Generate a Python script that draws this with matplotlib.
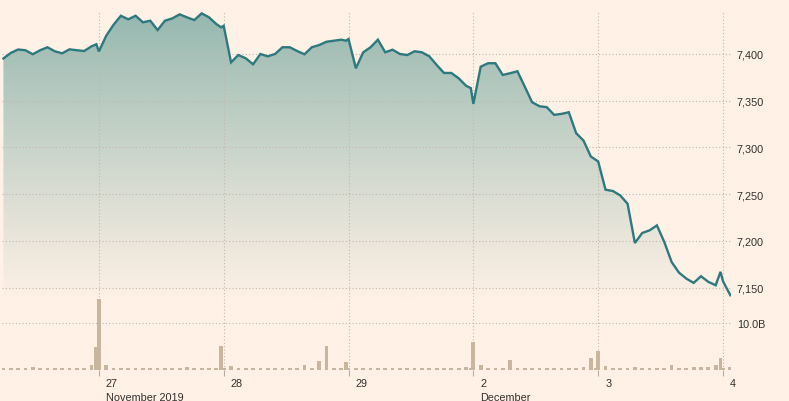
import numpy as np
import matplotlib.pyplot as plt
from matplotlib.colors import to_rgb

plt.rcParams['font.family'] = ['Liberation Sans', 'DejaVu Sans']

# FTSE 100, half-hourly prices and volume, 26 Nov - 4 Dec 2019
day_labels = ['26', '27', '28', '29', '2', '3', '4']
month_labels = {1: 'November 2019', 4: 'December'}

# 26 Nov starts at the 5th half-hour slot (chart window cuts in)
price_26 = [7395.2, 7401.1, 7404.8, 7404.0, 7399.7, 7404.0, 7407.2, 7402.9, 7400.7,
            7405.0, 7404.0, 7403.2, 7408.2, 7410.4]
price_27 = [7402.7, 7419.5, 7431.3, 7440.9, 7437.1, 7440.9, 7433.9, 7435.6, 7425.6,
            7435.6, 7438.1, 7442.4, 7439.2, 7436.3, 7443.5, 7439.2, 7432.0, 7428.5]
price_28 = [7430.2, 7391.1, 7398.9, 7395.4, 7389.0, 7400.0, 7397.5, 7400.0, 7407.2,
            7407.2, 7403.2, 7399.7, 7407.2, 7409.6, 7413.1, 7414.2, 7415.3, 7414.2]
price_29 = [7416.0, 7384.7, 7401.8, 7407.2, 7415.3, 7401.8, 7404.6, 7400.0, 7398.9,
            7402.9, 7401.8, 7397.5, 7388.3, 7379.7, 7379.7, 7374.0, 7366.1, 7363.4]
price_dec2 = [7346.6, 7386.4, 7390.1, 7390.1, 7377.6, 7379.4, 7381.5, 7365.1, 7348.4,
              7344.1, 7343.1, 7334.9, 7335.9, 7337.7, 7315.3, 7307.4, 7290.3, 7286.8]
price_dec3 = [7285.0, 7254.8, 7253.4, 7248.7, 7239.8, 7197.8, 7208.5, 7211.3, 7216.6,
              7198.9, 7177.5, 7166.1, 7159.7, 7155.1, 7162.2, 7156.2, 7152.6, 7166.9]
price_dec4 = [7156.8, 7141.9]

# volume, billions
vol_26 = [0.5, 0.5, 0.45, 0.45, 0.7, 0.5, 0.5, 0.45, 0.45, 0.5, 0.5, 0.5, 1.0, 4.9]
vol_27 = [15.1, 1.0, 0.5, 0.45, 0.5, 0.5, 0.45, 0.45, 0.45, 0.5, 0.45, 0.45, 0.7, 0.5,
          0.5, 0.5, 0.5, 5.2]
vol_28 = [0.45, 0.8, 0.45, 0.45, 0.45, 0.45, 0.45, 0.45, 0.45, 0.45, 0.45, 1.0, 0.45,
          1.9, 5.0, 0.45, 0.45, 1.6]
vol_29 = [0.45, 0.5, 0.45, 0.45, 0.45, 0.45, 0.45, 0.45, 0.45, 0.45, 0.45, 0.45, 0.45,
          0.45, 0.5, 0.5, 0.7, 0.45]
vol_dec2 = [6.0, 1.0, 0.45, 0.45, 0.45, 2.1, 0.45, 0.45, 0.45, 0.45, 0.45, 0.45, 0.45,
            0.45, 0.5, 0.7, 2.5, 0.45]
vol_dec3 = [4.0, 0.8, 0.5, 0.45, 0.5, 0.7, 0.5, 0.45, 0.45, 0.45, 1.0, 0.45, 0.5, 0.7,
            0.7, 0.7, 1.0, 2.5]
vol_dec4 = [0.45, 0.7]

prices = [price_26, price_27, price_28, price_29, price_dec2, price_dec3, price_dec4]
volumes = [vol_26, vol_27, vol_28, vol_29, vol_dec2, vol_dec3, vol_dec4]
first_slot = [4, 0, 0, 0, 0, 0, 0]

# 17 half-hour slots per session plus the closing auction
slots = np.r_[np.arange(17) / 17, 0.98]
x, p, v = [], [], []
for d in range(len(prices)):
    n = len(prices[d])
    s = slots[first_slot[d]:first_slot[d] + n]
    x.extend(d + s)
    p.extend(prices[d])
    v.extend(volumes[d])
x = np.array(x)
p = np.array(p)
v = np.array(v)

bg = '#fff1e5'
grid_kw = dict(color='#c2b8ad', linestyle=(0, (1, 2)), linewidth=0.8)
txt = '#33302e'
fs = 7.8

fig = plt.figure(figsize=(7.89, 4.02), dpi=100, facecolor=bg)
W, H = 789, 402
ax = fig.add_axes([2 / W, 1 - 298 / H, 729 / W, 286 / H])
axv = fig.add_axes([2 / W, 1 - 371 / H, 729 / W, 81 / H])
for a in (ax, axv):
    a.set_facecolor('none')
    for s in a.spines.values():
        s.set_visible(False)
ax.set_zorder(2)

xlo, xhi = 0.224, 6.064
ylo, yhi = 7140, 7446

# gradient area under the line
poly = ax.fill_between(x, p, ylo, color='none', linewidth=0)
top = np.array(to_rgb('#93b7ae'))
bot = np.array(to_rgb('#fdf0e5'))
t = np.linspace(0, 1, 256)[:, None, None] ** 0.9
img = top + (bot - top) * t
im = ax.imshow(img, extent=[xlo, xhi, ylo, yhi], aspect='auto', origin='upper', zorder=0.5)
im.set_clip_path(poly.get_paths()[0], transform=ax.transData)
ax.plot(x, p, color='#2d797e', linewidth=1.7, zorder=3, solid_joinstyle='miter')

ax.set_xlim(xlo, xhi)
ax.set_ylim(ylo, yhi)
ticks = [7150, 7200, 7250, 7300, 7350, 7400]
ax.set_yticks(ticks)
ax.set_yticklabels(['{:,}'.format(k) for k in ticks])
ax.yaxis.tick_right()
ax.tick_params(axis='y', length=0, pad=4.3, labelsize=fs, labelcolor=txt)
ax.set_xticks(range(1, 7))
ax.tick_params(axis='x', length=0, labelbottom=False)
ax.grid(True, **grid_kw)

# volume panel
axv.bar(x, v, width=0.03, color='#cab69f', zorder=2)
axv.set_xlim(xlo, xhi)
axv.set_ylim(0, 17.23)
axv.set_yticks([10])
axv.set_yticklabels(['10.0B'])
axv.yaxis.tick_right()
axv.tick_params(axis='y', length=0, pad=4.3, labelsize=fs, labelcolor=txt)
axv.set_xticks(range(1, 7))
axv.set_xticklabels([])
axv.tick_params(axis='x', length=4.3, width=0.8, color='#b9ada1', direction='out')
axv.grid(True, **grid_kw)

for d in range(1, 7):
    axv.annotate(day_labels[d], xy=(d, 0), xycoords=('data', 'axes fraction'),
                 xytext=(5, -5.5), textcoords='offset points', ha='left', va='top',
                 fontsize=fs, color=txt)
    if d in month_labels:
        axv.annotate(month_labels[d], xy=(d, 0), xycoords=('data', 'axes fraction'),
                     xytext=(5, -16), textcoords='offset points', ha='left', va='top',
                     fontsize=fs, color=txt)

fig.savefig('out.png', dpi=100, facecolor=bg)
